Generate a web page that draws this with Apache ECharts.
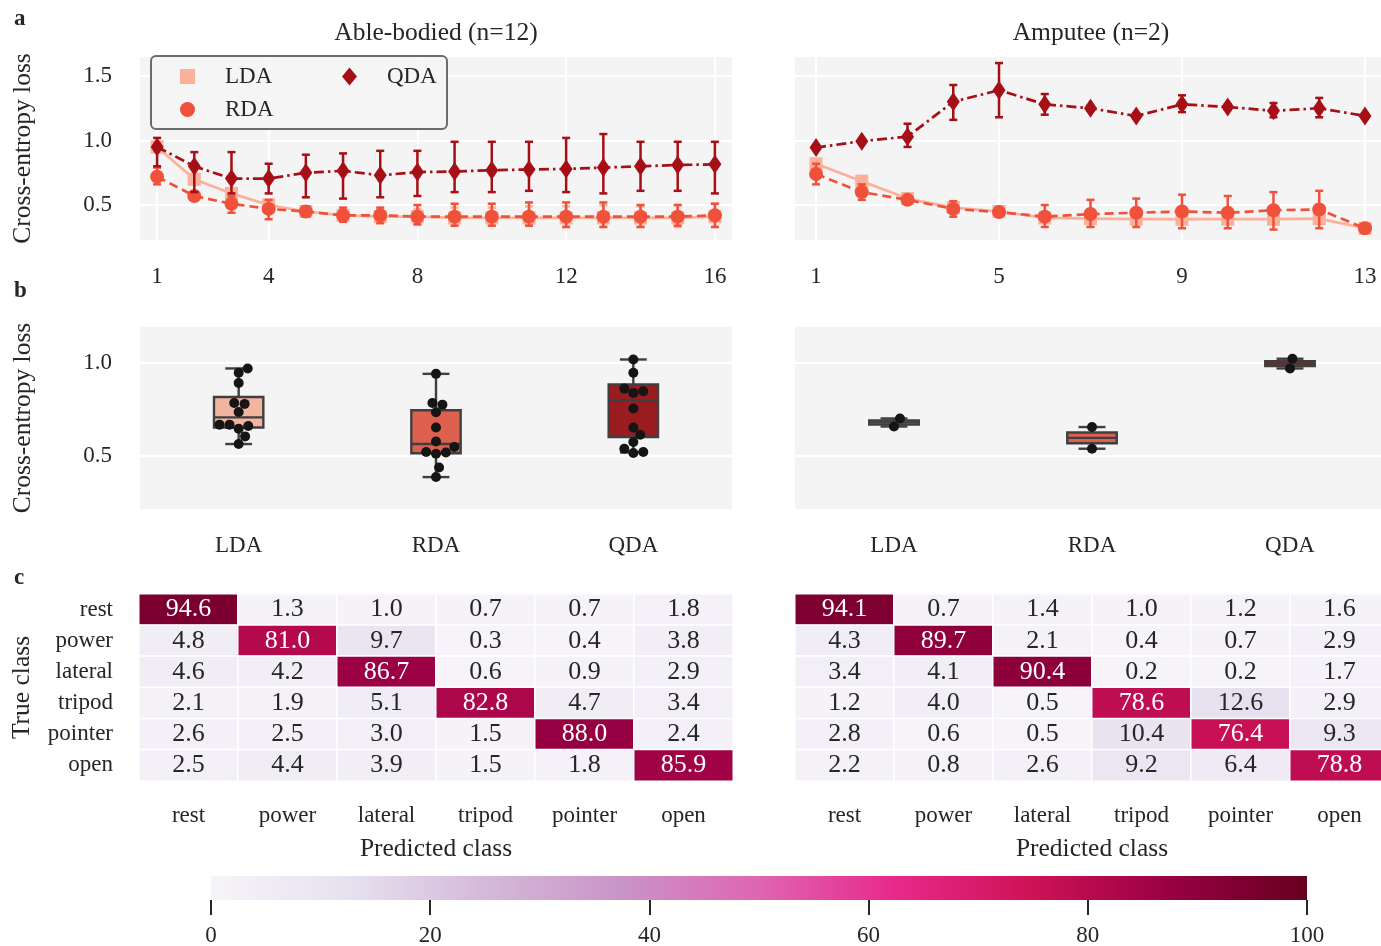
<!DOCTYPE html>
<html><head><meta charset="utf-8">
<script src="https://cdn.jsdelivr.net/npm/echarts@6/dist/echarts.min.js"></script>
<style>html,body{margin:0;padding:0;background:#fff}#c{width:1381px;height:946px}</style>
</head><body><div id="c"></div>
<script>
// ---------- DATA ----------
const methods = ['LDA', 'RDA', 'QDA'];
const stepsAble = [1,2,3,4,5,6,7,8,9,10,11,12,13,14,15,16];
const stepsAmp = [1,2,3,4,5,6,7,8,9,10,11,12,13];
const ticksAble = [1,4,8,12,16];
const ticksAmp = [1,5,9,13];
const lossTicksA = [0.5,1.0,1.5];
const lossTicksB = [0.5,1.0];

const ableLDA    = [0.95,0.70,0.59,0.50,0.45,0.42,0.41,0.41,0.40,0.40,0.40,0.40,0.40,0.40,0.40,0.41];
const ableLDA_lo = [0.92,0.66,0.55,0.46,0.42,0.38,0.36,0.35,0.34,0.34,0.34,0.33,0.33,0.33,0.33,0.33];
const ableLDA_hi = [0.98,0.74,0.63,0.54,0.48,0.46,0.46,0.47,0.48,0.48,0.49,0.49,0.50,0.49,0.50,0.51];
const ableRDA    = [0.72,0.57,0.51,0.47,0.45,0.42,0.42,0.41,0.41,0.41,0.41,0.41,0.41,0.41,0.41,0.42];
const ableRDA_lo = [0.66,0.54,0.44,0.39,0.41,0.37,0.36,0.35,0.34,0.34,0.34,0.33,0.33,0.33,0.34,0.33];
const ableRDA_hi = [0.79,0.60,0.57,0.54,0.49,0.48,0.48,0.50,0.51,0.51,0.52,0.52,0.52,0.50,0.50,0.51];
const ableQDA    = [0.95,0.80,0.705,0.705,0.75,0.765,0.73,0.755,0.76,0.77,0.775,0.78,0.79,0.80,0.81,0.815];
const ableQDA_lo = [0.80,0.60,0.59,0.59,0.56,0.55,0.56,0.57,0.60,0.60,0.61,0.60,0.59,0.61,0.61,0.59];
const ableQDA_hi = [1.02,0.91,0.91,0.82,0.89,0.90,0.92,0.92,0.99,0.99,0.99,1.02,1.05,0.99,0.99,0.99];

const ampLDA    = [0.82,0.685,0.55,0.48,0.45,0.40,0.395,0.39,0.39,0.39,0.39,0.395,0.32];
const ampLDA_lo = [0.79,0.67,0.54,0.45,0.44,0.37,0.37,0.36,0.36,0.36,0.36,0.37,0.31];
const ampLDA_hi = [0.85,0.70,0.56,0.51,0.46,0.43,0.42,0.42,0.42,0.42,0.42,0.42,0.33];
const ampRDA    = [0.74,0.60,0.54,0.47,0.445,0.41,0.43,0.44,0.45,0.44,0.46,0.465,0.32];
const ampRDA_lo = [0.66,0.54,0.53,0.41,0.43,0.33,0.33,0.33,0.32,0.32,0.31,0.32,0.31];
const ampRDA_hi = [0.82,0.66,0.55,0.53,0.46,0.50,0.54,0.55,0.58,0.57,0.60,0.61,0.33];
const ampQDA    = [0.945,0.995,1.03,1.30,1.39,1.28,1.25,1.19,1.28,1.26,1.23,1.25,1.19];
const ampQDA_lo = [0.93,0.98,0.95,1.16,1.18,1.20,1.23,1.17,1.22,1.24,1.18,1.18,1.17];
const ampQDA_hi = [0.96,1.01,1.13,1.43,1.60,1.36,1.27,1.21,1.35,1.28,1.29,1.33,1.21];

// box stats: [min, Q1, median, Q3, max]
const ableBoxLDA = [0.563,0.652,0.706,0.815,0.968];
const ableBoxRDA = [0.386,0.514,0.563,0.744,0.939];
const ableBoxQDA = [0.518,0.600,0.797,0.882,1.016];
const ampBoxLDA = [0.657,0.668,0.679,0.689,0.700];
const ampBoxRDA = [0.538,0.567,0.596,0.625,0.654];
const ampBoxQDA = [0.968,0.981,0.994,1.007,1.020];
// individual subjects
const ablePtsLDA = [0.968,0.945,0.89,0.783,0.778,0.735,0.667,0.667,0.66,0.645,0.604,0.563];
const ablePtsRDA = [0.939,0.783,0.774,0.733,0.652,0.577,0.547,0.52,0.518,0.511,0.437,0.386];
const ablePtsQDA = [1.016,0.945,0.86,0.846,0.837,0.753,0.652,0.613,0.574,0.538,0.52,0.515];
const ampPtsLDA = [0.700,0.657];
const ampPtsRDA = [0.654,0.538];
const ampPtsQDA = [1.020,0.968];

const classes = ['rest','power','lateral','tripod','pointer','open'];
const confAble = [
  [94.6, 1.3, 1.0, 0.7, 0.7, 1.8],
  [4.8, 81.0, 9.7, 0.3, 0.4, 3.8],
  [4.6, 4.2, 86.7, 0.6, 0.9, 2.9],
  [2.1, 1.9, 5.1, 82.8, 4.7, 3.4],
  [2.6, 2.5, 3.0, 1.5, 88.0, 2.4],
  [2.5, 4.4, 3.9, 1.5, 1.8, 85.9]
];
const confAmp = [
  [94.1, 0.7, 1.4, 1.0, 1.2, 1.6],
  [4.3, 89.7, 2.1, 0.4, 0.7, 2.9],
  [3.4, 4.1, 90.4, 0.2, 0.2, 1.7],
  [1.2, 4.0, 0.5, 78.6, 12.6, 2.9],
  [2.8, 0.6, 0.5, 10.4, 76.4, 9.3],
  [2.2, 0.8, 2.6, 9.2, 6.4, 78.8]
];
const colorbarTicks = [0,20,40,60,80,100];

// ---------- STYLE ----------
const FONT = 'Liberation Serif';
const TXT = '#262626';
const BG = '#f4f4f4';
const COL = {LDA:'#fbb09a', RDA:'#f0513b', QDA:'#a50f15'};
const BOXCOL = {LDA:'#f1b5a2', RDA:'#de604f', QDA:'#991c21'};
const PuRd = ['#f7f4f9','#e7e1ef','#d4b9da','#c994c7','#df65b0','#e7298a','#ce1256','#980043','#67001f'];

const chart = echarts.init(document.getElementById('c'), null, {renderer:'canvas'});

const G = {
  aL:{left:140, top:57, width:592, height:183},
  aR:{left:795, top:57, width:591, height:183},
  bL:{left:140, top:327, width:592, height:182},
  bR:{left:795, top:327, width:594, height:182},
  cL:{left:139, top:594, width:594, height:187},
  cR:{left:795, top:594, width:594, height:187},
  cb:{left:211, top:876, width:1096, height:24}
};
const bYmin = 0.215, bYmax = 1.19;

function lineSeries(name, xs, ys, color, symbol, size, dash, xi, yi, z){
  return {type:'line', name, xAxisIndex:xi, yAxisIndex:yi, z, animation:false,
    data: xs.map((x,i)=>[x, ys[i]]), symbol, symbolSize:size, showSymbol:true,
    lineStyle:{color, width:2.7, type:dash}, itemStyle:{color, opacity:1},
    emphasis:{disabled:true}};
}
function errSeries(name, xs, lo, hi, color, xi, yi, z){
  return {type:'custom', name, xAxisIndex:xi, yAxisIndex:yi, z, silent:true, animation:false,
    data: xs.map((x,i)=>[x, lo[i], hi[i]]),
    encode:{x:0, y:[1,2]},
    renderItem:(params, api)=>{
      const x = api.value(0);
      const p1 = api.coord([x, api.value(1)]);
      const p2 = api.coord([x, api.value(2)]);
      const cw = 4;
      const st = {stroke:color, lineWidth:2.5};
      return {type:'group', children:[
        {type:'line', shape:{x1:p1[0],y1:p1[1],x2:p2[0],y2:p2[1]}, style:st},
        {type:'line', shape:{x1:p1[0]-cw,y1:p1[1],x2:p1[0]+cw,y2:p1[1]}, style:st},
        {type:'line', shape:{x1:p2[0]-cw,y1:p2[1],x2:p2[0]+cw,y2:p2[1]}, style:st}
      ]};
    }};
}
function boxSeries(boxes, xi, yi){
  return {type:'custom', xAxisIndex:xi, yAxisIndex:yi, z:3, silent:true, animation:false,
    data: boxes.map((b,i)=>[i].concat(b)),
    encode:{x:0, y:[1,2,3,4,5]},
    renderItem:(params, api)=>{
      const i = api.value(0);
      const band = api.size([1,0])[0];
      const hw = band*0.125, cw = band*0.068;
      const pMin = api.coord([i, api.value(1)]);
      const pQ1 = api.coord([i, api.value(2)]);
      const pMed = api.coord([i, api.value(3)]);
      const pQ3 = api.coord([i, api.value(4)]);
      const pMax = api.coord([i, api.value(5)]);
      const cx = pMin[0];
      const ec = '#3f3f3f';
      const st = {stroke:ec, lineWidth:2.4};
      return {type:'group', children:[
        {type:'line', shape:{x1:cx,y1:pMax[1],x2:cx,y2:pQ3[1]}, style:st},
        {type:'line', shape:{x1:cx,y1:pQ1[1],x2:cx,y2:pMin[1]}, style:st},
        {type:'line', shape:{x1:cx-cw,y1:pMax[1],x2:cx+cw,y2:pMax[1]}, style:st},
        {type:'line', shape:{x1:cx-cw,y1:pMin[1],x2:cx+cw,y2:pMin[1]}, style:st},
        {type:'rect', shape:{x:cx-hw, y:pQ3[1], width:hw*2, height:pQ1[1]-pQ3[1]},
          style:{fill:BOXCOL[methods[i]], stroke:ec, lineWidth:2.4}},
        {type:'line', shape:{x1:cx-hw,y1:pMed[1],x2:cx+hw,y2:pMed[1]}, style:st}
      ]};
    }};
}
// simple beeswarm layout (pixel space) -> offsets in category units
function swarm(vals, yScale, bandPx, d){
  const order = vals.map((v,i)=>i).sort((a,b)=>vals[a]-vals[b]);
  const placed = []; const off = new Array(vals.length).fill(0);
  for (const i of order){
    const y = vals[i]*yScale;
    const cands = [0];
    for (const p of placed){
      const dy = Math.abs(p.y-y);
      if (dy < d){ const dx = Math.sqrt(d*d-dy*dy); cands.push(p.x+dx, p.x-dx); }
    }
    cands.sort((a,b)=>Math.abs(a)-Math.abs(b));
    let best = 0;
    for (const c of cands){
      if (placed.every(p=>(p.x-c)*(p.x-c)+(p.y-y)*(p.y-y) >= d*d-1e-6)){ best=c; break; }
    }
    placed.push({x:best,y}); off[i] = best/bandPx;
  }
  return off;
}
function swarmData(ptsList, grid){
  const yScale = grid.height/(bYmax-bYmin);
  const band = grid.width/3;
  const out = [];
  ptsList.forEach((pts, ci)=>{
    const off = swarm(pts, yScale, band, 10);
    pts.forEach((v,k)=>out.push([ci+off[k], v]));
  });
  return out;
}
function hmData(mat){
  const out = [];
  mat.forEach((row,r)=>row.forEach((v,c)=>out.push({value:[c,r,v], label:{color: v>50?'#ffffff':TXT}})));
  return out;
}

const gridStyle = {show:true, backgroundColor:BG, borderWidth:0, outerBoundsMode:'none', containLabel:false};
const hidden = {show:false};
const lbl = {color:TXT, fontFamily:FONT, fontSize:23};
const nameStyle = {fontFamily:FONT, fontSize:25.5, color:TXT};
const split = {show:true, lineStyle:{color:'#ffffff', width:2}};

const option = {
  animation:false,
  textStyle:{fontFamily:FONT, color:TXT},
  title:[
    {text:'Able-bodied (n=12)', left:436, top:20, padding:0, textAlign:'center', textStyle:{fontFamily:FONT, fontSize:25.5, fontWeight:'normal', color:TXT}},
    {text:'Amputee (n=2)', left:1091, top:20, padding:0, textAlign:'center', textStyle:{fontFamily:FONT, fontSize:25.5, fontWeight:'normal', color:TXT}},
    {text:'a', left:9, top:3, textStyle:{fontFamily:FONT, fontSize:23, fontWeight:'bold', color:TXT}},
    {text:'b', left:9, top:275, textStyle:{fontFamily:FONT, fontSize:23, fontWeight:'bold', color:TXT}},
    {text:'c', left:9, top:562, textStyle:{fontFamily:FONT, fontSize:23, fontWeight:'bold', color:TXT}}
  ],
  graphic:[{type:'rect', z:50, silent:true, shape:{x:151, y:56, width:296, height:73, r:5},
    style:{fill:'rgba(245,245,245,0.85)', stroke:'#6b6b6b', lineWidth:2}}],
  legend:[
    {left:175, top:60, orient:'vertical', itemGap:10, itemWidth:15, itemHeight:15, z:60, selectedMode:false,
     data:[{name:'LDA', icon:'rect'}, {name:'RDA', icon:'circle'}],
     formatter:n=>'{g| }'+n, textStyle:Object.assign({rich:{g:{width:25}}}, lbl)},
    {left:337, top:60, orient:'vertical', itemGap:10, itemWidth:15, itemHeight:18, z:60, selectedMode:false,
     data:[{name:'QDA', icon:'diamond'}],
     formatter:n=>'{g| }'+n, textStyle:Object.assign({rich:{g:{width:25}}}, lbl)}
  ],
  grid:[
    Object.assign({}, G.aL, gridStyle),
    Object.assign({}, G.aR, gridStyle),
    Object.assign({}, G.bL, gridStyle),
    Object.assign({}, G.bR, gridStyle),
    Object.assign({}, G.cL, {show:false, outerBoundsMode:'none', containLabel:false}),
    Object.assign({}, G.cR, {show:false, outerBoundsMode:'none', containLabel:false}),
    Object.assign({}, G.cb, {show:true, borderWidth:0, outerBoundsMode:'none', containLabel:false,
      backgroundColor:new echarts.graphic.LinearGradient(0,0,1,0, PuRd.map((c,i)=>({offset:i/(PuRd.length-1), color:c})))})
  ],
  xAxis:[
    {gridIndex:0, type:'value', min:0.54, max:16.46, axisLine:hidden, axisTick:{show:false, customValues:ticksAble},
     axisLabel:Object.assign({customValues:ticksAble, margin:25}, lbl), splitLine:split},
    {gridIndex:1, type:'value', min:0.54, max:13.46, axisLine:hidden, axisTick:{show:false, customValues:ticksAmp},
     axisLabel:Object.assign({customValues:ticksAmp, margin:25}, lbl), splitLine:split},
    {gridIndex:2, type:'category', data:methods, axisLine:hidden, axisTick:hidden, splitLine:hidden,
     axisLabel:Object.assign({margin:25}, lbl)},
    {gridIndex:2, type:'value', min:-0.5, max:2.5, show:false},
    {gridIndex:3, type:'category', data:methods, axisLine:hidden, axisTick:hidden, splitLine:hidden,
     axisLabel:Object.assign({margin:25}, lbl)},
    {gridIndex:3, type:'value', min:-0.5, max:2.5, show:false},
    {gridIndex:4, type:'category', data:classes, axisLine:hidden, axisTick:hidden, splitLine:hidden, splitArea:hidden,
     axisLabel:Object.assign({margin:23}, lbl), name:'Predicted class', nameLocation:'middle', nameGap:55, nameTextStyle:nameStyle},
    {gridIndex:5, type:'category', data:classes, axisLine:hidden, axisTick:hidden, splitLine:hidden, splitArea:hidden,
     axisLabel:Object.assign({margin:23}, lbl), name:'Predicted class', nameLocation:'middle', nameGap:55, nameTextStyle:nameStyle},
    {gridIndex:6, type:'value', min:0, max:100, interval:20, axisLine:hidden,
     axisTick:{show:true, length:15, lineStyle:{color:TXT, width:2}},
     axisLabel:Object.assign({margin:24, showMinLabel:true, showMaxLabel:true, customValues:colorbarTicks}, lbl), splitLine:hidden}
  ],
  yAxis:[
    {gridIndex:0, type:'value', min:0.229, max:1.647, axisLine:hidden, axisTick:{show:false, customValues:lossTicksA},
     axisLabel:Object.assign({customValues:lossTicksA, margin:28, formatter:v=>v.toFixed(1)}, lbl), splitLine:split,
     name:'Cross-entropy loss', nameLocation:'middle', nameGap:104, nameTextStyle:nameStyle},
    {gridIndex:1, type:'value', min:0.229, max:1.647, axisLine:hidden, axisTick:{show:false, customValues:lossTicksA},
     axisLabel:{show:false, customValues:lossTicksA}, splitLine:split},
    {gridIndex:2, type:'value', min:bYmin, max:bYmax, axisLine:hidden, axisTick:{show:false, customValues:lossTicksB},
     axisLabel:Object.assign({customValues:lossTicksB, margin:28, formatter:v=>v.toFixed(1)}, lbl), splitLine:split,
     name:'Cross-entropy loss', nameLocation:'middle', nameGap:104, nameTextStyle:nameStyle},
    {gridIndex:3, type:'value', min:bYmin, max:bYmax, axisLine:hidden, axisTick:{show:false, customValues:lossTicksB},
     axisLabel:{show:false, customValues:lossTicksB}, splitLine:split},
    {gridIndex:4, type:'category', data:classes, inverse:true, axisLine:hidden, axisTick:hidden, splitLine:hidden, splitArea:hidden,
     axisLabel:Object.assign({margin:26}, lbl), name:'True class', nameLocation:'middle', nameGap:104, nameTextStyle:nameStyle},
    {gridIndex:5, type:'category', data:classes, inverse:true, axisLine:hidden, axisTick:hidden, splitLine:hidden, splitArea:hidden,
     axisLabel:{show:false}},
    {gridIndex:6, type:'value', show:false}
  ],
  visualMap:{type:'continuous', min:0, max:100, show:false, seriesIndex:[16,17], inRange:{color:PuRd}},
  series:[
    errSeries('LDA err', stepsAble, ableLDA_lo, ableLDA_hi, COL.LDA, 0, 0, 2),
    lineSeries('LDA', stepsAble, ableLDA, COL.LDA, 'rect', [13,13], 'solid', 0, 0, 3),
    errSeries('RDA err', stepsAble, ableRDA_lo, ableRDA_hi, COL.RDA, 0, 0, 4),
    lineSeries('RDA', stepsAble, ableRDA, COL.RDA, 'circle', 14, [9,5], 0, 0, 5),
    errSeries('QDA err', stepsAble, ableQDA_lo, ableQDA_hi, COL.QDA, 0, 0, 6),
    lineSeries('QDA', stepsAble, ableQDA, COL.QDA, 'diamond', [13,19], [10,4,2.5,4], 0, 0, 7),
    errSeries('LDA err', stepsAmp, ampLDA_lo, ampLDA_hi, COL.LDA, 1, 1, 2),
    lineSeries('LDA', stepsAmp, ampLDA, COL.LDA, 'rect', [13,13], 'solid', 1, 1, 3),
    errSeries('RDA err', stepsAmp, ampRDA_lo, ampRDA_hi, COL.RDA, 1, 1, 4),
    lineSeries('RDA', stepsAmp, ampRDA, COL.RDA, 'circle', 14, [9,5], 1, 1, 5),
    errSeries('QDA err', stepsAmp, ampQDA_lo, ampQDA_hi, COL.QDA, 1, 1, 6),
    lineSeries('QDA', stepsAmp, ampQDA, COL.QDA, 'diamond', [13,19], [10,4,2.5,4], 1, 1, 7),
    boxSeries([ableBoxLDA, ableBoxRDA, ableBoxQDA], 2, 2),
    {type:'scatter', xAxisIndex:3, yAxisIndex:2, z:5, symbolSize:10, silent:true, animation:false,
     itemStyle:{color:'#151515', opacity:1}, data:swarmData([ablePtsLDA, ablePtsRDA, ablePtsQDA], G.bL)},
    boxSeries([ampBoxLDA, ampBoxRDA, ampBoxQDA], 4, 3),
    {type:'scatter', xAxisIndex:5, yAxisIndex:3, z:5, symbolSize:10, silent:true, animation:false,
     itemStyle:{color:'#151515', opacity:1}, data:swarmData([ampPtsLDA, ampPtsRDA, ampPtsQDA], G.bR)},
    {type:'heatmap', xAxisIndex:6, yAxisIndex:4, data:hmData(confAble), animation:false,
     itemStyle:{borderColor:'#ffffff', borderWidth:1.5},
     label:{show:true, fontFamily:FONT, fontSize:26, formatter:p=>p.value[2].toFixed(1)}, emphasis:{disabled:true}},
    {type:'heatmap', xAxisIndex:7, yAxisIndex:5, data:hmData(confAmp), animation:false,
     itemStyle:{borderColor:'#ffffff', borderWidth:1.5},
     label:{show:true, fontFamily:FONT, fontSize:26, formatter:p=>p.value[2].toFixed(1)}, emphasis:{disabled:true}}
  ]
};
chart.setOption(option);
</script>
</body></html>
